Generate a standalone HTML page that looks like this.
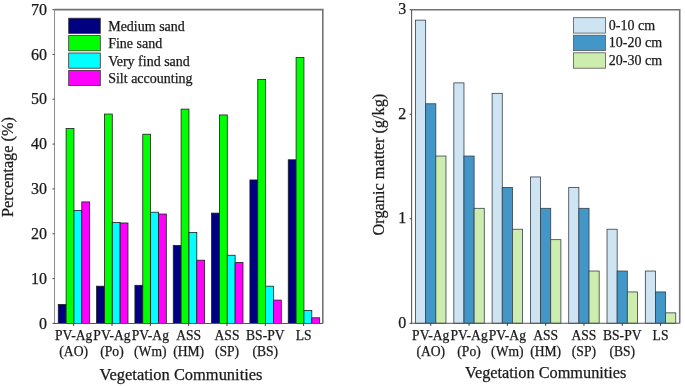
<!DOCTYPE html>
<html><head><meta charset="utf-8"><style>
html,body{margin:0;padding:0;background:#fff;overflow:hidden;width:685px;height:386px;}
svg{display:block;will-change:transform;}
text{font-family:"Liberation Serif",serif;fill:#1a1a1a;stroke:#1a1a1a;stroke-width:0.25px;}
.yt{font-size:16px;}
.xt{font-size:13.6px;}
.lg{font-size:14px;}
.at{font-size:16.3px;}
</style></head><body>
<svg width="685" height="386" viewBox="0 0 685 386">
<rect width="685" height="386" fill="#fff"/>
<rect x="58.26" y="304.39" width="7.85" height="19.01" fill="#000080" stroke="#1e1e1e" stroke-width="0.8"/>
<rect x="66.11" y="128.40" width="7.85" height="195.00" fill="#00ff00" stroke="#1e1e1e" stroke-width="0.8"/>
<rect x="73.96" y="210.43" width="7.85" height="112.97" fill="#00ffff" stroke="#1e1e1e" stroke-width="0.8"/>
<rect x="81.81" y="201.91" width="7.85" height="121.49" fill="#ff00ff" stroke="#1e1e1e" stroke-width="0.8"/>
<rect x="96.59" y="286.19" width="7.85" height="37.21" fill="#000080" stroke="#1e1e1e" stroke-width="0.8"/>
<rect x="104.44" y="114.05" width="7.85" height="209.35" fill="#00ff00" stroke="#1e1e1e" stroke-width="0.8"/>
<rect x="112.29" y="222.54" width="7.85" height="100.86" fill="#00ffff" stroke="#1e1e1e" stroke-width="0.8"/>
<rect x="120.14" y="222.98" width="7.85" height="100.42" fill="#ff00ff" stroke="#1e1e1e" stroke-width="0.8"/>
<rect x="134.92" y="285.30" width="7.85" height="38.10" fill="#000080" stroke="#1e1e1e" stroke-width="0.8"/>
<rect x="142.77" y="134.22" width="7.85" height="189.18" fill="#00ff00" stroke="#1e1e1e" stroke-width="0.8"/>
<rect x="150.62" y="212.23" width="7.85" height="111.17" fill="#00ffff" stroke="#1e1e1e" stroke-width="0.8"/>
<rect x="158.47" y="214.02" width="7.85" height="109.38" fill="#ff00ff" stroke="#1e1e1e" stroke-width="0.8"/>
<rect x="173.25" y="245.40" width="7.85" height="78.00" fill="#000080" stroke="#1e1e1e" stroke-width="0.8"/>
<rect x="181.10" y="109.12" width="7.85" height="214.28" fill="#00ff00" stroke="#1e1e1e" stroke-width="0.8"/>
<rect x="188.95" y="232.40" width="7.85" height="91.00" fill="#00ffff" stroke="#1e1e1e" stroke-width="0.8"/>
<rect x="196.80" y="260.19" width="7.85" height="63.21" fill="#ff00ff" stroke="#1e1e1e" stroke-width="0.8"/>
<rect x="211.58" y="213.12" width="7.85" height="110.28" fill="#000080" stroke="#1e1e1e" stroke-width="0.8"/>
<rect x="219.43" y="114.95" width="7.85" height="208.45" fill="#00ff00" stroke="#1e1e1e" stroke-width="0.8"/>
<rect x="227.28" y="255.26" width="7.85" height="68.14" fill="#00ffff" stroke="#1e1e1e" stroke-width="0.8"/>
<rect x="235.13" y="262.43" width="7.85" height="60.97" fill="#ff00ff" stroke="#1e1e1e" stroke-width="0.8"/>
<rect x="249.91" y="179.95" width="7.85" height="143.45" fill="#000080" stroke="#1e1e1e" stroke-width="0.8"/>
<rect x="257.76" y="79.53" width="7.85" height="243.87" fill="#00ff00" stroke="#1e1e1e" stroke-width="0.8"/>
<rect x="265.61" y="286.19" width="7.85" height="37.21" fill="#00ffff" stroke="#1e1e1e" stroke-width="0.8"/>
<rect x="273.46" y="300.09" width="7.85" height="23.31" fill="#ff00ff" stroke="#1e1e1e" stroke-width="0.8"/>
<rect x="288.24" y="159.78" width="7.85" height="163.62" fill="#000080" stroke="#1e1e1e" stroke-width="0.8"/>
<rect x="296.09" y="57.57" width="7.85" height="265.83" fill="#00ff00" stroke="#1e1e1e" stroke-width="0.8"/>
<rect x="303.94" y="310.40" width="7.85" height="13.00" fill="#00ffff" stroke="#1e1e1e" stroke-width="0.8"/>
<rect x="311.79" y="317.80" width="7.85" height="5.60" fill="#ff00ff" stroke="#1e1e1e" stroke-width="0.8"/>
<path d="M54.5,9.6 H322.8 V323.4" fill="none" stroke="#737373" stroke-width="1.6"/>
<path d="M54.5,9.6 V323.4" fill="none" stroke="#909090" stroke-width="1.05"/>
<path d="M54.0,323.4 H322.8" fill="none" stroke="#555" stroke-width="1.05"/>
<line x1="52.5" y1="323.40" x2="54.5" y2="323.40" stroke="#444" stroke-width="1"/>
<text x="47.1" y="328.50" text-anchor="end" class="yt">0</text>
<line x1="52.5" y1="278.57" x2="54.5" y2="278.57" stroke="#444" stroke-width="1"/>
<text x="47.1" y="283.67" text-anchor="end" class="yt">10</text>
<line x1="52.5" y1="233.74" x2="54.5" y2="233.74" stroke="#444" stroke-width="1"/>
<text x="47.1" y="238.84" text-anchor="end" class="yt">20</text>
<line x1="52.5" y1="188.91" x2="54.5" y2="188.91" stroke="#444" stroke-width="1"/>
<text x="47.1" y="194.01" text-anchor="end" class="yt">30</text>
<line x1="52.5" y1="144.09" x2="54.5" y2="144.09" stroke="#444" stroke-width="1"/>
<text x="47.1" y="149.19" text-anchor="end" class="yt">40</text>
<line x1="52.5" y1="99.26" x2="54.5" y2="99.26" stroke="#444" stroke-width="1"/>
<text x="47.1" y="104.36" text-anchor="end" class="yt">50</text>
<line x1="52.5" y1="54.43" x2="54.5" y2="54.43" stroke="#444" stroke-width="1"/>
<text x="47.1" y="59.53" text-anchor="end" class="yt">60</text>
<line x1="52.5" y1="9.60" x2="54.5" y2="9.60" stroke="#444" stroke-width="1"/>
<text x="47.1" y="14.70" text-anchor="end" class="yt">70</text>
<line x1="73.66" y1="323.4" x2="73.66" y2="325.9" stroke="#333" stroke-width="1"/>
<text x="73.66" y="339.5" text-anchor="middle" class="xt">PV-Ag</text>
<text x="73.66" y="356.3" text-anchor="middle" class="xt">(AO)</text>
<line x1="111.99" y1="323.4" x2="111.99" y2="325.9" stroke="#333" stroke-width="1"/>
<text x="111.99" y="339.5" text-anchor="middle" class="xt">PV-Ag</text>
<text x="111.99" y="356.3" text-anchor="middle" class="xt">(Po)</text>
<line x1="150.32" y1="323.4" x2="150.32" y2="325.9" stroke="#333" stroke-width="1"/>
<text x="150.32" y="339.5" text-anchor="middle" class="xt">PV-Ag</text>
<text x="150.32" y="356.3" text-anchor="middle" class="xt">(Wm)</text>
<line x1="188.65" y1="323.4" x2="188.65" y2="325.9" stroke="#333" stroke-width="1"/>
<text x="188.65" y="339.5" text-anchor="middle" class="xt">ASS</text>
<text x="188.65" y="356.3" text-anchor="middle" class="xt">(HM)</text>
<line x1="226.98" y1="323.4" x2="226.98" y2="325.9" stroke="#333" stroke-width="1"/>
<text x="226.98" y="339.5" text-anchor="middle" class="xt">ASS</text>
<text x="226.98" y="356.3" text-anchor="middle" class="xt">(SP)</text>
<line x1="265.31" y1="323.4" x2="265.31" y2="325.9" stroke="#333" stroke-width="1"/>
<text x="265.31" y="339.5" text-anchor="middle" class="xt">BS-PV</text>
<text x="265.31" y="356.3" text-anchor="middle" class="xt">(BS)</text>
<line x1="303.64" y1="323.4" x2="303.64" y2="325.9" stroke="#333" stroke-width="1"/>
<text x="303.64" y="339.5" text-anchor="middle" class="xt">LS</text>
<rect x="415.52" y="20.15" width="10.15" height="303.15" fill="#cfe4f2" stroke="#34404a" stroke-width="0.8"/>
<rect x="425.67" y="103.78" width="10.15" height="219.52" fill="#4396c8" stroke="#34404a" stroke-width="0.8"/>
<rect x="435.82" y="156.05" width="10.15" height="167.25" fill="#cdedae" stroke="#34404a" stroke-width="0.8"/>
<rect x="453.82" y="82.87" width="10.15" height="240.43" fill="#cfe4f2" stroke="#34404a" stroke-width="0.8"/>
<rect x="463.97" y="156.05" width="10.15" height="167.25" fill="#4396c8" stroke="#34404a" stroke-width="0.8"/>
<rect x="474.12" y="208.31" width="10.15" height="114.99" fill="#cdedae" stroke="#34404a" stroke-width="0.8"/>
<rect x="492.12" y="93.33" width="10.15" height="229.97" fill="#cfe4f2" stroke="#34404a" stroke-width="0.8"/>
<rect x="502.27" y="187.41" width="10.15" height="135.89" fill="#4396c8" stroke="#34404a" stroke-width="0.8"/>
<rect x="512.42" y="229.22" width="10.15" height="94.08" fill="#cdedae" stroke="#34404a" stroke-width="0.8"/>
<rect x="530.43" y="176.95" width="10.15" height="146.35" fill="#cfe4f2" stroke="#34404a" stroke-width="0.8"/>
<rect x="540.58" y="208.31" width="10.15" height="114.99" fill="#4396c8" stroke="#34404a" stroke-width="0.8"/>
<rect x="550.73" y="239.67" width="10.15" height="83.63" fill="#cdedae" stroke="#34404a" stroke-width="0.8"/>
<rect x="568.73" y="187.41" width="10.15" height="135.89" fill="#cfe4f2" stroke="#34404a" stroke-width="0.8"/>
<rect x="578.88" y="208.31" width="10.15" height="114.99" fill="#4396c8" stroke="#34404a" stroke-width="0.8"/>
<rect x="589.02" y="271.03" width="10.15" height="52.27" fill="#cdedae" stroke="#34404a" stroke-width="0.8"/>
<rect x="607.02" y="229.22" width="10.15" height="94.08" fill="#cfe4f2" stroke="#34404a" stroke-width="0.8"/>
<rect x="617.17" y="271.03" width="10.15" height="52.27" fill="#4396c8" stroke="#34404a" stroke-width="0.8"/>
<rect x="627.32" y="291.94" width="10.15" height="31.36" fill="#cdedae" stroke="#34404a" stroke-width="0.8"/>
<rect x="645.33" y="271.03" width="10.15" height="52.27" fill="#cfe4f2" stroke="#34404a" stroke-width="0.8"/>
<rect x="655.48" y="291.94" width="10.15" height="31.36" fill="#4396c8" stroke="#34404a" stroke-width="0.8"/>
<rect x="665.62" y="312.85" width="10.15" height="10.45" fill="#cdedae" stroke="#34404a" stroke-width="0.8"/>
<path d="M411.6,9.7 H679.7 V323.3" fill="none" stroke="#737373" stroke-width="1.6"/>
<path d="M411.6,9.7 V323.3" fill="none" stroke="#555" stroke-width="1.05"/>
<path d="M411.1,323.3 H679.7" fill="none" stroke="#555" stroke-width="1.05"/>
<line x1="409.6" y1="323.30" x2="411.6" y2="323.30" stroke="#444" stroke-width="1"/>
<text x="406.3" y="327.70" text-anchor="end" class="yt">0</text>
<line x1="409.6" y1="218.77" x2="411.6" y2="218.77" stroke="#444" stroke-width="1"/>
<text x="406.3" y="223.17" text-anchor="end" class="yt">1</text>
<line x1="409.6" y1="114.23" x2="411.6" y2="114.23" stroke="#444" stroke-width="1"/>
<text x="406.3" y="118.63" text-anchor="end" class="yt">2</text>
<line x1="409.6" y1="9.70" x2="411.6" y2="9.70" stroke="#444" stroke-width="1"/>
<text x="406.3" y="14.10" text-anchor="end" class="yt">3</text>
<line x1="430.75" y1="323.3" x2="430.75" y2="325.8" stroke="#333" stroke-width="1"/>
<text x="430.75" y="339.5" text-anchor="middle" class="xt">PV-Ag</text>
<text x="430.75" y="356.3" text-anchor="middle" class="xt">(AO)</text>
<line x1="469.05" y1="323.3" x2="469.05" y2="325.8" stroke="#333" stroke-width="1"/>
<text x="469.05" y="339.5" text-anchor="middle" class="xt">PV-Ag</text>
<text x="469.05" y="356.3" text-anchor="middle" class="xt">(Po)</text>
<line x1="507.35" y1="323.3" x2="507.35" y2="325.8" stroke="#333" stroke-width="1"/>
<text x="507.35" y="339.5" text-anchor="middle" class="xt">PV-Ag</text>
<text x="507.35" y="356.3" text-anchor="middle" class="xt">(Wm)</text>
<line x1="545.65" y1="323.3" x2="545.65" y2="325.8" stroke="#333" stroke-width="1"/>
<text x="545.65" y="339.5" text-anchor="middle" class="xt">ASS</text>
<text x="545.65" y="356.3" text-anchor="middle" class="xt">(HM)</text>
<line x1="583.95" y1="323.3" x2="583.95" y2="325.8" stroke="#333" stroke-width="1"/>
<text x="583.95" y="339.5" text-anchor="middle" class="xt">ASS</text>
<text x="583.95" y="356.3" text-anchor="middle" class="xt">(SP)</text>
<line x1="622.25" y1="323.3" x2="622.25" y2="325.8" stroke="#333" stroke-width="1"/>
<text x="622.25" y="339.5" text-anchor="middle" class="xt">BS-PV</text>
<text x="622.25" y="356.3" text-anchor="middle" class="xt">(BS)</text>
<line x1="660.55" y1="323.3" x2="660.55" y2="325.8" stroke="#333" stroke-width="1"/>
<text x="660.55" y="339.5" text-anchor="middle" class="xt">LS</text>
<rect x="68.7" y="18.20" width="31.6" height="15.2" fill="#000080" stroke="#333" stroke-width="0.8"/>
<text x="108.2" y="30.80" class="lg">Medium sand</text>
<rect x="68.7" y="35.60" width="31.6" height="15.2" fill="#00ff00" stroke="#333" stroke-width="0.8"/>
<text x="108.2" y="48.20" class="lg">Fine sand</text>
<rect x="68.7" y="53.00" width="31.6" height="15.2" fill="#00ffff" stroke="#333" stroke-width="0.8"/>
<text x="108.2" y="65.60" class="lg">Very find sand</text>
<rect x="68.7" y="70.40" width="31.6" height="15.2" fill="#ff00ff" stroke="#333" stroke-width="0.8"/>
<text x="108.2" y="83.00" class="lg">Silt accounting</text>
<rect x="573.6" y="17.70" width="31.8" height="15.4" fill="#cfe4f2" stroke="#555" stroke-width="0.8"/>
<text x="608.8" y="29.80" class="lg">0-10 cm</text>
<rect x="573.6" y="35.25" width="31.8" height="15.4" fill="#4396c8" stroke="#555" stroke-width="0.8"/>
<text x="608.8" y="47.35" class="lg">10-20 cm</text>
<rect x="573.6" y="52.80" width="31.8" height="15.4" fill="#cdedae" stroke="#555" stroke-width="0.8"/>
<text x="608.8" y="64.90" class="lg">20-30 cm</text>
<text x="99.5" y="379.8" class="at" style="font-size:16.45px">Vegetation Communities</text>
<text x="465" y="377.5" class="at">Vegetation Communities</text>
<text transform="translate(12.6,167) rotate(-90)" text-anchor="middle" class="at">Percentage (%)</text>
<text transform="translate(383.6,164.6) rotate(-90)" text-anchor="middle" class="at">Organic matter (g/kg)</text>
</svg>
</body></html>
